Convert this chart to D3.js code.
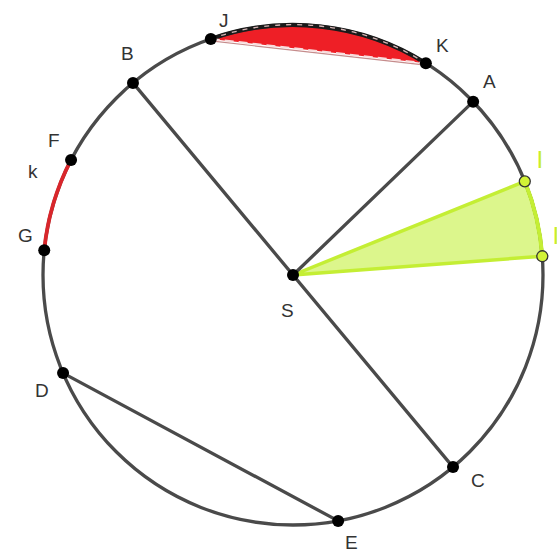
<!DOCTYPE html>
<html>
<head>
<meta charset="utf-8">
<script src="https://cdn.jsdelivr.net/npm/d3@7"></script>
<style>
  html, body { margin: 0; padding: 0; background: #fff; }
  svg { display: block; }
  text { font-family: "Liberation Sans", Arial, sans-serif; }
</style>
</head>
<body>
<svg id="chart" width="557" height="552"></svg>
<script>
// ---- data (geometry units: circle centred at S, radius 5) ----
const circleRadius = 5;
const pointNames  = ["A", "B", "C", "D", "E", "F", "G", "J", "K", "I1", "I2"];
const pointAngles = [43.9, 129.8, -50.2, 203.1, -79.6, 152.6, 174.3, 109.2, 57.9, 22.0, 4.3]; // degrees
const segmentLines = [["S", "A"], ["B", "C"], ["D", "E"]];
const labelTexts = ["A", "B", "C", "D", "E", "F", "G", "J", "K", "S", "k", "I", "I"];

// ---- layout / style config ----
const W = 557, H = 552;
const x = d3.scaleLinear().domain([-5, 5]).range([43, 543]);
const y = d3.scaleLinear().domain([-5, 5]).range([525, 25]);
const labelPos = {
  A: [483, 88], B: [121, 60], C: [471, 487], D: [35, 397], E: [345, 549],
  F: [48, 147], G: [18, 242], J: [219, 27], K: [436, 52], S: [281, 317], k: [28, 178]
};
const iLabelPos = [[536.5, 168], [552.5, 244]];

const svg = d3.select("#chart");
const rad = d => d * Math.PI / 180;
const P = { S: [0, 0] };
pointNames.forEach((n, i) => {
  P[n] = [circleRadius * Math.cos(rad(pointAngles[i])), circleRadius * Math.sin(rad(pointAngles[i]))];
});
const px = n => [x(P[n][0]), y(P[n][1])];
const Rpx = x(circleRadius) - x(0);
const lineCol = "#4a4a4a";

// sector S–I1–I2 (light lime)
{
  const s = px("S"), a = px("I1"), b = px("I2");
  svg.append("path")
    .attr("d", `M${s[0]},${s[1]} L${a[0]},${a[1]} A${Rpx},${Rpx} 0 0 1 ${b[0]},${b[1]} Z`)
    .attr("fill", "#dcf68c")
    .attr("stroke", "#c4ee34")
    .attr("stroke-width", 3.5)
    .attr("stroke-linejoin", "round");
}

// circular segment J–K (red)
{
  const a = px("J"), b = px("K");
  svg.append("path")
    .attr("d", `M${a[0]},${a[1]} A${Rpx},${Rpx} 0 0 1 ${b[0]},${b[1]} Z`)
    .attr("fill", "#ee1f26")
    .attr("stroke", "none");
}

// main circle
svg.append("circle")
  .attr("cx", x(0)).attr("cy", y(0)).attr("r", Rpx)
  .attr("fill", "none").attr("stroke", lineCol).attr("stroke-width", 3.3);

// lime arc I1–I2 over circle
{
  const a = px("I1"), b = px("I2");
  svg.append("path")
    .attr("d", `M${a[0]},${a[1]} A${Rpx},${Rpx} 0 0 1 ${b[0]},${b[1]}`)
    .attr("fill", "none").attr("stroke", "#c4ee34").attr("stroke-width", 4);
}

// red arc F–G (k)
{
  const a = px("F"), b = px("G");
  svg.append("path")
    .attr("d", `M${a[0]},${a[1]} A${Rpx},${Rpx} 0 0 0 ${b[0]},${b[1]}`)
    .attr("fill", "none").attr("stroke", "#d9262b").attr("stroke-width", 3.8);
}

// J–K segment boundary: thick dark arc, dashed chord
{
  const a = px("J"), b = px("K");
  svg.append("path")
    .attr("d", `M${a[0]},${a[1]} A${Rpx},${Rpx} 0 0 1 ${b[0]},${b[1]}`)
    .attr("fill", "none").attr("stroke", "#1a1a1a").attr("stroke-width", 4.2);
  svg.append("path")
    .attr("d", `M${a[0]},${a[1]} A${Rpx - 3.5},${Rpx - 3.5} 0 0 1 ${b[0]},${b[1]}`)
    .attr("fill", "none").attr("stroke", "#f6d0d0").attr("stroke-width", 1.3)
    .attr("stroke-dasharray", "5,6").attr("opacity", 0.85);
  svg.append("line")
    .attr("x1", a[0]).attr("y1", a[1] + 2).attr("x2", b[0]).attr("y2", b[1] + 2)
    .attr("stroke", "#a04040").attr("stroke-width", 1.2).attr("opacity", 0.6);
  svg.append("line")
    .attr("x1", a[0]).attr("y1", a[1]).attr("x2", b[0]).attr("y2", b[1])
    .attr("stroke", "#f8dcdc").attr("stroke-width", 2)
    .attr("stroke-dasharray", "9,5");
}

// straight segments
svg.selectAll("line.seg").data(segmentLines).enter().append("line")
  .attr("class", "seg")
  .attr("x1", d => px(d[0])[0]).attr("y1", d => px(d[0])[1])
  .attr("x2", d => px(d[1])[0]).attr("y2", d => px(d[1])[1])
  .attr("stroke", lineCol).attr("stroke-width", 3.3).attr("stroke-linecap", "round");

// points
const blackPts = ["A", "B", "C", "D", "E", "F", "G", "J", "K", "S"];
svg.selectAll("circle.pt").data(blackPts).enter().append("circle")
  .attr("class", "pt")
  .attr("cx", d => px(d)[0]).attr("cy", d => px(d)[1])
  .attr("r", 6).attr("fill", "#000");
svg.selectAll("circle.ipt").data(["I1", "I2"]).enter().append("circle")
  .attr("class", "ipt")
  .attr("cx", d => px(d)[0]).attr("cy", d => px(d)[1])
  .attr("r", 5.5).attr("fill", "#d2f236").attr("stroke", "#333").attr("stroke-width", 1.3);

// labels
labelTexts.slice(0, 11).forEach(t => {
  svg.append("text")
    .attr("x", labelPos[t][0]).attr("y", labelPos[t][1])
    .attr("font-size", 19).attr("fill", "#333").text(t);
});
labelTexts.slice(11).forEach((t, i) => {
  svg.append("text")
    .attr("x", iLabelPos[i][0]).attr("y", iLabelPos[i][1])
    .attr("font-size", 24).attr("fill", "#c8ee2a").text(t);
});
</script>
</body>
</html>
